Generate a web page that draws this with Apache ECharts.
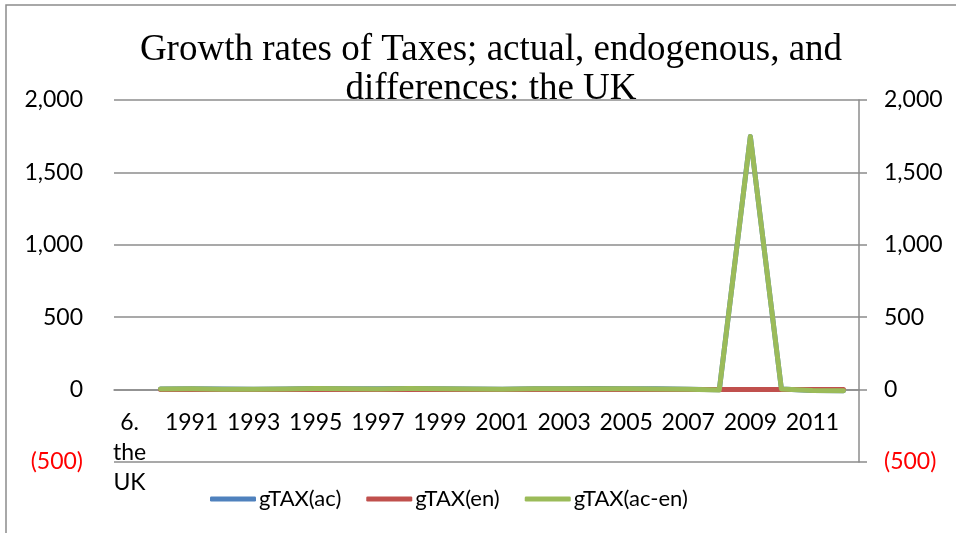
<!DOCTYPE html>
<html>
<head>
<meta charset="utf-8">
<script src="https://cdn.jsdelivr.net/npm/echarts@6/dist/echarts.min.js"></script>
<style>
    html, body { margin: 0; padding: 0; background: #fff; }
    #chart1 { width: 956px; height: 533px; }
</style>
</head>
<body>
<div id="chart1"></div>
<script>
// categories: first one is the odd wrapped label from the sheet
var categories = ["6.\nthe\nUK", "1990", "1991", "1992", "1993", "1994", "1995", "1996", "1997", "1998", "1999",
    "2000", "2001", "2002", "2003", "2004", "2005", "2006", "2007", "2008", "2009", "2010", "2011", "2012"];

var gTaxAc = [null, 4.2, 6.1, 3.3, 2.4, 5.0, 7.2, 6.3, 5.1, 7.8, 6.0, 4.1, 3.2, 5.3, 6.4, 7.0, 6.2, 5.1, 3.0, -1.8, 1748, 4.0, -6.3, -7.1];
var gTaxEn = [null, 0.2, 0.3, 0.1, 0.2, 0.3, 0.2, 0.1, 0.2, 0.3, 0.2, 0.1, 0.1, 0.2, 0.2, 0.3, 0.2, 0.1, 0.1, 0.2, 0.3, 0.1, 0.2, 0.1];
var gTaxDiff = [null, 4.0, 5.8, 3.2, 2.2, 4.7, 7.0, 6.2, 4.9, 7.5, 5.8, 4.0, 3.1, 5.1, 6.2, 6.7, 6.0, 5.0, 2.9, -2.0, 1747.7, 3.9, -6.5, -7.2];

var seriesNames = ["gTAX(ac)", "gTAX(en)", "gTAX(ac-en)"];
var seriesColors = ["#4F81BD", "#C0504D", "#9BBB59"];

var yMin = -500, yMax = 2000, yStep = 500;

var font = "Lato, 'Open Sans', sans-serif";
var fs = 23;

var mychart = echarts.init(document.getElementById("chart1"));

function fmt(v) {
    var s = Math.abs(v).toString().replace(/\B(?=(\d{3})+(?!\d))/g, ",");
    return v < 0 ? "{neg|(" + s + ")}" : s;
}

var labelRich = { neg: { color: "#ff0000", fontSize: fs, fontFamily: font } };

function makeLine(name, data, color) {
    return {
        name: name,
        type: "line",
        data: data,
        symbol: "none",
        lineStyle: { width: 5, color: color, cap: "round", join: "round" },
        itemStyle: { color: color },
        emphasis: { disabled: true }
    };
}

var option = {
    animation: false,
    title: {
        text: "Growth rates of Taxes; actual, endogenous, and\ndifferences: the UK",
        left: 486,
        textAlign: "center",
        top: 26,
        textStyle: {
            fontFamily: "'Liberation Serif', 'DejaVu Serif', serif",
            fontWeight: "normal",
            fontSize: 37,
            lineHeight: 39,
            color: "#000"
        }
    },
    legend: {
        bottom: 18,
        left: 205,
        itemGap: 25,
        itemWidth: 46,
        itemHeight: 5,
        icon: "roundRect",
        data: seriesNames,
        textStyle: { fontFamily: font, fontSize: 22, color: "#000", padding: [0, 0, 0, -2] }
    },
    grid: { left: 114, right: 97, top: 100, bottom: 71, outerBoundsMode: "none" },
    xAxis: {
        type: "category",
        data: categories,
        boundaryGap: true,
        // category axis sits at the zero line, like the sheet's
        offset: -72,
        axisLine: { onZero: false, lineStyle: { color: "#8c8c8c", width: 1.5 } },
        axisTick: { show: false },
        axisLabel: {
            interval: 1,
            margin: 18,
            color: "#000",
            fontFamily: font,
            fontSize: fs,
            lineHeight: 30
        }
    },
    yAxis: [{
        type: "value",
        min: yMin,
        max: yMax,
        interval: yStep,
        position: "left",
        axisLine: { show: false },
        axisTick: { show: false },
        splitLine: { lineStyle: { color: "#8c8c8c", width: 1.5 } },
        axisLabel: {
            margin: 31,
            color: "#000",
            fontFamily: font,
            fontSize: fs,
            formatter: fmt,
            rich: labelRich
        }
    }, {
        type: "value",
        min: yMin,
        max: yMax,
        interval: yStep,
        position: "right",
        axisLine: { show: true, lineStyle: { color: "#8c8c8c", width: 1.5 } },
        axisTick: { show: true, length: 8, lineStyle: { color: "#8c8c8c", width: 1.5 } },
        splitLine: { show: false },
        axisLabel: {
            margin: 25,
            color: "#000",
            fontFamily: font,
            fontSize: fs,
            formatter: fmt,
            rich: labelRich
        }
    }],
    graphic: [{
        type: "polyline",
        shape: { points: [[6, 540], [6, 5], [960, 5]] },
        style: { stroke: "#8c8c8c", lineWidth: 1.5, fill: null },
        silent: true
    }],
    series: [
        makeLine(seriesNames[0], gTaxAc, seriesColors[0]),
        makeLine(seriesNames[1], gTaxEn, seriesColors[1]),
        makeLine(seriesNames[2], gTaxDiff, seriesColors[2])
    ]
};
mychart.setOption(option);
</script>
</body>
</html>
